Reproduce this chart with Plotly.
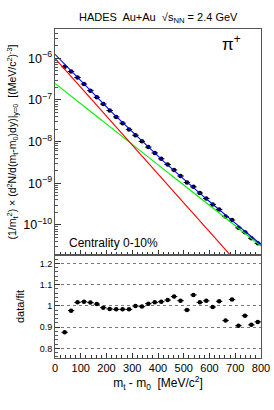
import numpy as np
import plotly.graph_objects as go

# ---- data ----
mt_m0 = [37.5 + 25 * i for i in range(31)]  # MeV/c^2 bin centres
spectrum = [6.249e-7, 4.815e-7, 3.465e-7, 2.411e-7, 1.672e-7, 1.159e-7, 7.980e-8,
            5.573e-8, 3.921e-8, 2.774e-8, 1.969e-8, 1.426e-8, 1.016e-8, 7.392e-9,
            5.352e-9, 3.877e-9, 2.831e-9, 2.090e-9, 1.496e-9, 1.047e-9, 8.228e-10,
            5.846e-10, 4.336e-10, 3.111e-10, 2.364e-10, 1.596e-10, 1.312e-10,
            8.590e-11, 6.731e-11, 4.794e-11, 3.636e-11]
ratio = [0.876, 0.978, 1.017, 1.020, 1.016, 1.009, 0.992, 0.986, 0.984, 0.984,
         0.984, 1.000, 0.997, 1.011, 1.017, 1.020, 1.028, 1.044, 1.025, 0.981,
         1.052, 1.017, 1.024, 0.995, 1.022, 0.931, 1.030, 0.907, 0.954, 0.911, 0.925]
bin_half_width = 12.5

# two-slope Boltzmann fit parameters
A1, T1 = 1.0e-6, 62.6     # red component
A2, T2 = 2.5e-7, 89.0     # green component

xfit = np.linspace(0, 800, 401)
red = A1 * np.exp(-xfit / T1)
green = A2 * np.exp(-xfit / T2)
blue = red + green

FONT = "Liberation Sans, Arial, sans-serif"

fig = go.Figure()
fig.add_trace(go.Scatter(x=mt_m0, y=spectrum, mode="markers",
                         marker=dict(color="black", size=4.5),
                         error_x=dict(type="constant", value=bin_half_width, color="black",
                                      thickness=1, width=0),
                         xaxis="x", yaxis="y", showlegend=False))
fig.add_trace(go.Scatter(x=xfit, y=green, mode="lines", line=dict(color="#00ee00", width=1.1),
                         xaxis="x", yaxis="y", showlegend=False))
fig.add_trace(go.Scatter(x=xfit, y=red, mode="lines", line=dict(color="#ff0000", width=1.1),
                         xaxis="x", yaxis="y", showlegend=False))
fig.add_trace(go.Scatter(x=xfit, y=blue, mode="lines", line=dict(color="#0000ff", width=1.1),
                         xaxis="x", yaxis="y", showlegend=False))
fig.add_trace(go.Scatter(x=mt_m0, y=ratio, mode="markers",
                         marker=dict(color="black", size=4.5),
                         error_x=dict(type="constant", value=bin_half_width, color="black",
                                      thickness=1, width=0),
                         xaxis="x2", yaxis="y2", showlegend=False))

split = 103 / 329
axcommon = dict(showline=True, mirror=True, linecolor="#555", linewidth=1,
                ticks="inside", tickcolor="#333", zeroline=False, showgrid=False,
                automargin=False)

fig.update_layout(
    width=274, height=410,
    margin=dict(l=55, r=13, t=29, b=52, autoexpand=False),
    paper_bgcolor="white", plot_bgcolor="white",
    font=dict(family=FONT, color="black", size=11),
    xaxis=dict(domain=[0, 1], anchor="y", range=[0, 800], dtick=100, ticklen=5,
               showticklabels=False,
               minor=dict(dtick=20, ticks="inside", ticklen=3, tickcolor="#333"),
               **axcommon),
    yaxis=dict(domain=[split, 1], anchor="x", type="log", range=[-10.72, -5.297],
               dtick=1, exponentformat="power", ticklen=6, tickfont=dict(size=10),
               minor=dict(ticks="inside", ticklen=3, tickcolor="#555"),
               title=dict(text="(1/m<sub>t</sub><sup>2</sup>) × (d<sup>2</sup>N/d(m<sub>t</sub>-m<sub>0</sub>)dy)|<sub>y=0</sub>  [(MeV/c<sup>2</sup>)<sup>-3</sup>]",
                          font=dict(size=10.5), standoff=4),
               **axcommon),
    xaxis2=dict(domain=[0, 1], anchor="y2", range=[0, 800], dtick=100, ticklen=5,
                tickfont=dict(size=11),
                minor=dict(dtick=20, ticks="inside", ticklen=3, tickcolor="#333"),
                title=dict(text="m<sub>t</sub> - m<sub>0</sub>  [MeV/c<sup>2</sup>]",
                           font=dict(size=12), standoff=4),
                **axcommon),
    yaxis2=dict(domain=[0, split], anchor="x2", range=[0.755, 1.24],
                tickvals=[0.8, 0.9, 1.0, 1.1, 1.2], ticktext=["0.8", "0.9", "1", "1.1", "1.2"],
                ticklen=5, tickfont=dict(size=9),
                minor=dict(dtick=0.02, ticks="inside", ticklen=3, tickcolor="#555"),
                title=dict(text="data/fit", font=dict(size=11), standoff=12),
                showline=True, mirror=True, linecolor="#555", linewidth=1,
                ticks="inside", tickcolor="#333", zeroline=False, automargin=False,
                showgrid=True, gridcolor="#777", griddash="dot", gridwidth=1),
    annotations=[
        dict(text="HADES  Au+Au  √s<sub>NN</sub> = 2.4 GeV", xref="paper", yref="paper",
             x=0.5, y=1.0, yshift=2, xanchor="center", yanchor="bottom", showarrow=False,
             font=dict(size=11)),
        dict(text="π<sup>+</sup>", xref="paper", yref="paper", x=0.855, y=0.958,
             xanchor="center", yanchor="middle", showarrow=False, font=dict(size=17)),
        dict(text="Centrality 0-10%", xref="paper", yref="paper", x=0.06, y=split,
             yshift=3, xanchor="left", yanchor="bottom", showarrow=False,
             font=dict(size=12)),
    ],
)

fig.write_html("out.html", config={"displayModeBar": False},
               post_script="document.body.style.margin='0';document.body.style.overflow='hidden';")
